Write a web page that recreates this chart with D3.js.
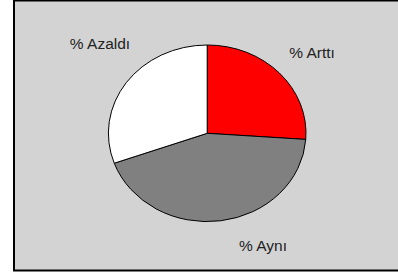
<!DOCTYPE html>
<html>
<head>
<meta charset="utf-8">
<script src="https://cdn.jsdelivr.net/npm/d3@7"></script>
<style>
  html, body { margin: 0; padding: 0; background: #ffffff; }
  svg { display: block; }
</style>
</head>
<body>
<svg id="chart" width="398" height="275"></svg>
<script>
// Data
const categories = ["% Arttı", "% Aynı", "% Azaldı"];
const values = [26.1, 43.4, 30.5];
const colors = ["#ff0000", "#808080", "#ffffff"];

// Layout
const W = 398, H = 275;
const cx = 207.2, cy = 133.3, rx = 98.8, ry = 88.3;
const labelPos = [
  { x: 312, y: 58, anchor: "middle" },
  { x: 263, y: 251, anchor: "middle" },
  { x: 100, y: 49, anchor: "middle" }
];

const svg = d3.select("#chart");

// Chart area background with border
svg.append("rect")
  .attr("x", 14).attr("y", 0.5)
  .attr("width", 400).attr("height", 270)
  .attr("fill", "#d3d3d4")
  .attr("stroke", "#000")
  .attr("stroke-width", 2);

const pie = d3.pie().sort(null).value(d => d)(values);
const arc = d3.arc().innerRadius(0).outerRadius(ry);

const g = svg.append("g")
  .attr("transform", `translate(${cx},${cy}) scale(${rx / ry},1)`);

g.selectAll("path")
  .data(pie)
  .enter().append("path")
  .attr("d", arc)
  .attr("fill", (d, i) => colors[i])
  .attr("stroke", "#000")
  .attr("stroke-width", 1)
  .attr("vector-effect", "non-scaling-stroke");

svg.selectAll("text.lbl")
  .data(categories)
  .enter().append("text")
  .attr("class", "lbl")
  .attr("x", (d, i) => labelPos[i].x)
  .attr("y", (d, i) => labelPos[i].y)
  .attr("text-anchor", (d, i) => labelPos[i].anchor)
  .attr("font-family", "Liberation Sans, Arial, sans-serif")
  .attr("font-size", "15.5px")
  .attr("fill", "#222")
  .text(d => d);
</script>
</body>
</html>
